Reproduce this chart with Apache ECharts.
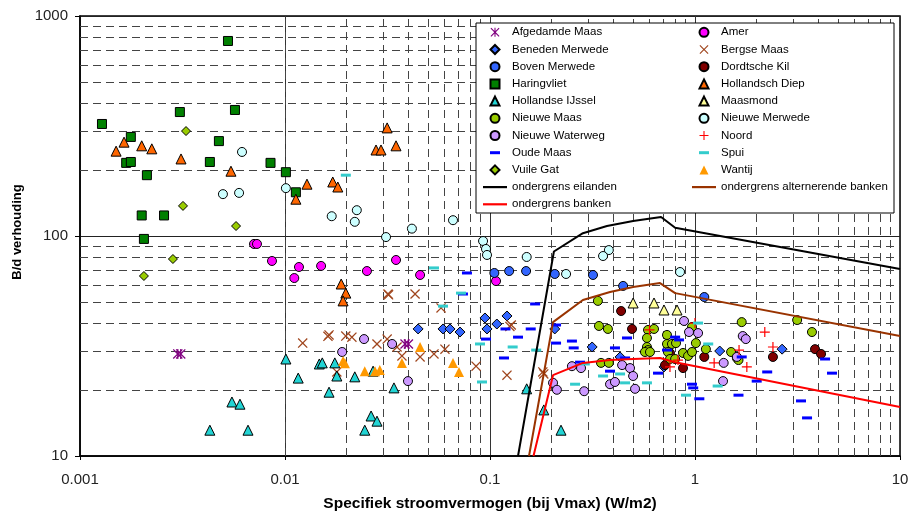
<!DOCTYPE html>
<html><head><meta charset="utf-8">
<script src="https://cdn.jsdelivr.net/npm/echarts@6/dist/echarts.min.js"></script>
<style>html,body{margin:0;padding:0;background:#fff}#c{width:908px;height:512px}</style>
</head><body><div id="c"></div>
<script>
// ---- data: [specifiek stroomvermogen (W/m2), B/d verhouding] ----
const afgedamdeMaas = [[0.00300,29.1],[0.00310,29.1],[0.0385,32.3],[0.0400,32.3]];
const amer = [[0.00706,92],[0.0073,92],[0.00864,77],[0.0117,72.3],[0.0111,64.4],[0.015,73.1],[0.0251,69.3],[0.0348,77.8],[0.0456,66.5],[0.107,62.4]];
const benedenMerwede = [[0.0446,37.8],[0.059,37.8],[0.0638,37.8],[0.0714,36.6],[0.0945,42.4],[0.0967,37.8],[0.108,39.8],[0.121,43.3],[0.207,37.8],[0.315,31.3],[0.431,28.2],[0.706,25.4],[1.32,30],[2.66,30.6]];
const bergseMaas = [[0.0122,32.6],[0.0164,35.5],[0.0162,35.0],[0.0198,35.1],[0.0212,34.7],[0.0281,32.3],[0.0315,34],[0.0352,31.3],[0.0372,28.5],[0.0456,28.2],[0.0533,29.1],[0.0603,30.6],[0.0855,25.6],[0.121,23.3],[0.127,39.4],[0.125,38.8],[0.0179,24.1],[0.0318,54.5],[0.0320,54.0],[0.0431,54.5],[0.0577,47.1],[0.181,24.1],[0.183,23.6]];
const bovenMerwede = [[0.105,67.9],[0.124,69.3],[0.15,69.3],[0.207,67.2],[0.318,66.5],[0.446,59.3],[1.11,52.8]];
const dordtscheKil = [[0.436,45.6],[0.493,37.8],[0.755,29.4],[0.714,25.9],[0.874,25.1],[1.11,28.2],[2.4,28.2],[3.85,30.6],[4.12,29.1]];
const haringvliet = [[0.00128,323],[0.00307,366],[0.00527,770],[0.0057,374],[0.00177,282],[0.00476,270],[0.00168,215],[0.00177,217],[0.0043,217],[0.0085,215],[0.0101,195],[0.00212,189],[0.002,124],[0.00257,124],[0.00205,97],[0.0113,158]];
const hollandschDiep = [[0.0015,243],[0.00164,267],[0.002,257],[0.00224,249],[0.00311,224],[0.00545,197],[0.0113,147],[0.0315,310],[0.0278,246],[0.0294,246],[0.0348,257],[0.0128,172],[0.0171,176],[0.0181,167],[0.0188,60.5],[0.0198,55],[0.0192,50.7]];
const hollandseIJssel = [[0.0101,27.6],[0.0116,22.6],[0.00551,17.6],[0.00603,17.2],[0.0043,13.1],[0.0066,13.1],[0.0147,26.2],[0.0152,26.5],[0.0164,19.5],[0.0175,26.5],[0.0179,23.1],[0.0219,22.9],[0.0269,24.3],[0.0245,13.1],[0.0263,15.2],[0.0281,14.4],[0.034,20.4],[0.151,20.2],[0.183,16.2],[0.222,13.1]];
const maasmond = [[0.499,49.6],[0.631,49.6],[0.706,46.1],[0.817,46.1]];
const nieuweMaas = [[0.336,50.7],[0.34,39],[0.376,37.8],[0.348,26.5],[0.38,26.5],[0.59,37.4],[0.631,37.8],[0.583,34.4],[0.583,31.3],[0.59,30.3],[0.57,29.7],[0.603,29.7],[0.73,35.5],[0.73,32.3],[0.772,32.3],[0.808,32.6],[0.738,29.7],[0.755,27.6],[0.8,27.6],[0.874,29.4],[0.925,28.5],[0.967,29.7],[0.967,38.6],[1.01,32.6],[1.13,30.6],[1.5,29.7],[1.6,27.9],[1.63,27.3],[1.69,40.6],[3.15,41.5],[3.72,36.6]];
const nieuweMerwede = [[0.00617,241],[0.00498,155],[0.00597,157],[0.0101,165],[0.0169,123],[0.0224,131],[0.0219,116],[0.0311,98.9],[0.0416,108],[0.066,118],[0.0925,94.9],[0.0956,87.3],[0.0967,82],[0.151,80.3],[0.38,86.3],[0.356,81.1],[0.235,67.2],[0.845,68.6]];
const nieuweWaterweg = [[0.0243,34],[0.0333,32.3],[0.019,29.7],[0.0398,21.9],[0.203,21.5],[0.212,20],[0.251,25.6],[0.278,25.1],[0.288,19.7],[0.385,21.2],[0.407,21.7],[0.441,25.9],[0.482,25.1],[0.499,23.1],[0.51,20.2],[0.884,41.1],[0.935,36.6],[1.035,36.2],[1.37,21.9],[1.38,26.5],[1.71,35.1],[1.77,34],[1.6,28.2]];
const noord = [[0.6,37.4],[1.0,40.2],[0.755,25.4],[0.826,27.3],[1.24,26.5],[1.64,30.3],[1.79,25.4],[2.19,36.6],[2.4,31.3]];
const oudeMaas = [[0.0772,67.9],[0.0738,54.5],[0.0956,34],[0.117,27.9],[0.119,37.8],[0.137,34.7],[0.158,37.8],[0.166,49.1],[0.21,39.4],[0.21,32.6],[0.251,33.3],[0.256,31],[0.275,26.7],[0.385,24.3],[0.407,31],[0.466,34.4],[0.456,27.9],[0.66,23.8],[0.73,30.3],[0.8,34.7],[0.836,33.7],[0.967,21.2],[0.98,20.4],[1.05,18.2],[1.69,28.2],[1.63,18.9],[2.0,21.9],[2.25,24.1],[3.29,17.8],[3.52,14.9],[4.31,27.6],[4.66,23.8]];
const spui = [[0.0198,189],[0.0533,71.6],[0.0722,55],[0.059,48],[0.0894,32.3],[0.0914,21.7],[0.129,31.3],[0.168,30.3],[0.26,21.2],[0.29,26.2],[0.356,23.1],[0.431,23.6],[0.456,21.5],[0.583,21.5],[0.904,18.9],[1.035,40.2],[1.16,32.3],[1.29,20.8]];
const vuileGat = [[0.00329,300],[0.00318,137],[0.00577,111],[0.00284,78.6],[0.00205,65.8]];
const wantij = [[0.0192,27],[0.0196,26.4],[0.0245,24.3],[0.0275,24.3],[0.029,24.6],[0.0372,26.5],[0.0456,31.3],[0.066,26.5],[0.0706,24.1]];
// boundary lines
const eilandenX = [0.137,0.205,0.284,0.372,0.499,0.683,0.8,10];
const eilandenY = [10,85,103,111,117,122,109,70.8];
const alternerendeX = [0.155,0.203,0.284,0.385,0.499,0.675,0.8,10];
const alternerendeY = [10,40.6,51.2,55.6,58.7,61.1,55,35.1];
const bankenX = [0.163,0.203,0.284,0.385,0.499,0.675,0.8,10];
const bankenY = [10,23.3,26.5,27.3,27.6,27.9,26.7,16.7];
// axes
const xTickLabels = ['0.001','0.01','0.1','1','10'];
const yTickLabels = ['10','100','1000'];
const xAxisTitle = 'Specifiek stroomvermogen (bij Vmax) (W/m2)';
const yAxisTitle = 'B/d verhouding';

// ---- minor grid values (2..9 within each decade) ----
const xMinor = [], yMinor = [];
[0.001,0.01,0.1,1].forEach(d => { for (let k=2;k<=9;k++) xMinor.push(+(d*k).toPrecision(3)); });
[10,100].forEach(d => { for (let k=2;k<=9;k++) yMinor.push(+(d*k).toPrecision(3)); });

// ---- symbols ----
const TRI = 'path://M5,0L10,10L0,10Z';
const DIA = 'path://M5,0L10,5L5,10L0,5Z';
const SQR = 'path://M0,0H10V10H0Z';
const XP = 'path://M0,0.9L0.9,0L5,4.1L9.1,0L10,0.9L5.9,5L10,9.1L9.1,10L5,5.9L0.9,10L0,9.1L4.1,5Z';
const PLUS = 'path://M4.4,0H5.6V4.4H10V5.6H5.6V10H4.4V5.6H0V4.4H4.4Z';
const AST = XP + 'M4.4,0H5.6V10H4.4Z';
const DASH = 'path://M0,0H10V3H0Z';
const DASH_LEG = 'path://M0,0L0,0M24,9L24,9M7,3H17V6H7Z';
const LINE_LEG = 'path://M0,0L0,0M24,9L24,9M0,3.4H24V5.6H0Z';

function sc(name, data, symbol, size, color, border) {
  return {
    type: 'scatter', name, data, symbol, symbolSize: size,
    itemStyle: { color, borderColor: '#000', borderWidth: border ? 1 : 0, opacity: 1 },
    emphasis: { disabled: true }, animation: false
  };
}
function ln(name, xs, ys, color) {
  return {
    type: 'line', name, data: xs.map((x,i)=>[x, ys[i]]), symbol: 'none', showSymbol: false,
    lineStyle: { color, width: 2 }, itemStyle: { color }, clip: true, animation: false, z: 3
  };
}

const gridLineSeries = {
  type: 'scatter', name: '_grid', data: [], silent: true, animation: false,
  markLine: {
    silent: true, z: 1, symbol: ['none','none'], animation: false, label: { show: false },
    lineStyle: { color: '#444', width: 1, type: [8,5] },
    emphasis: { disabled: true },
    data: xMinor.map(v => ({ xAxis: v })).concat(yMinor.map(v => ({ yAxis: v })))
  }
};

const series = [
  gridLineSeries,
  sc('Afgedamde Maas', afgedamdeMaas, AST, 10, '#800080', false),
  sc('Amer', amer, 'circle', 9, '#FF00FF', true),
  sc('Beneden Merwede', benedenMerwede, DIA, 10, '#3366FF', true),
  sc('Bergse Maas', bergseMaas, XP, 10, '#A0461E', false),
  sc('Boven Merwede', bovenMerwede, 'circle', 9, '#3366FF', true),
  sc('Dordtsche Kil', dordtscheKil, 'circle', 9, '#800000', true),
  sc('Haringvliet', haringvliet, SQR, 9, '#008000', true),
  sc('Hollandsch Diep', hollandschDiep, TRI, 10, '#FF6600', true),
  sc('Hollandse IJssel', hollandseIJssel, TRI, 10, '#22D4D4', true),
  sc('Maasmond', maasmond, TRI, 10, '#FFFF99', true),
  sc('Nieuwe Maas', nieuweMaas, 'circle', 9, '#99CC00', true),
  sc('Nieuwe Merwede', nieuweMerwede, 'circle', 9, '#CCFFFF', true),
  sc('Nieuwe Waterweg', nieuweWaterweg, 'circle', 9, '#CC99FF', true),
  sc('Noord', noord, PLUS, 10, '#FF0000', false),
  sc('Oude Maas', oudeMaas, DASH, [10,3], '#0000FF', false),
  sc('Spui', spui, DASH, [10,3], '#33CCCC', false),
  sc('Vuile Gat', vuileGat, DIA, 9, '#99CC00', true),
  sc('Wantij', wantij, TRI, 10, '#FF9900', false),
  ln('ondergrens eilanden', eilandenX, eilandenY, '#000000'),
  ln('ondergrens alternerende banken', alternerendeX, alternerendeY, '#993300'),
  ln('ondergrens banken', bankenX, bankenY, '#FF0000')
];

const legendText = { fontFamily: 'Liberation Sans, Arial, sans-serif', fontSize: 11.5, color: '#000', lineHeight: 12 };
function legendItems(names) {
  return names.map(n => {
    if (n === 'Oude Maas' || n === 'Spui') return { name: n, icon: DASH_LEG };
    if (n.indexOf('ondergrens') === 0) return { name: n, icon: LINE_LEG };
    return { name: n };
  });
}
const legendBase = {
  orient: 'vertical', itemWidth: 24, itemHeight: 9, itemGap: 5.2, padding: 0, top: 26.3,
  textStyle: legendText, selectedMode: false, z: 6
};

const fmt = v => { const n = +(+v).toPrecision(6); return String(n); };

const option = {
  backgroundColor: '#fff',
  animation: false,
  grid: { left: 80, right: 8, top: 16, bottom: 56, outerBoundsMode: 'none', containLabel: false,
    show: true, borderColor: '#000', borderWidth: 1.5, backgroundColor: 'transparent' },
  xAxis: {
    type: 'log', logBase: 10, min: 0.001, max: 10,
    name: xAxisTitle, nameLocation: 'middle', nameGap: 40,
    nameTextStyle: { fontFamily: 'Liberation Sans, Arial, sans-serif', fontSize: 15.5, fontWeight: 'bold', color: '#000' },
    axisLine: { show: true, lineStyle: { color: '#000', width: 1.5 } },
    axisTick: { show: true, length: 4, lineStyle: { color: '#000' } },
    axisLabel: { margin: 16, fontFamily: 'Liberation Sans, Arial, sans-serif', fontSize: 15, color: '#222',
      formatter: v => { const s = fmt(v); return xTickLabels.includes(s) ? s : ''; } },
    splitLine: { show: true, lineStyle: { color: '#333', width: 1 } },
    minorTick: { show: false }, minorSplitLine: { show: false }
  },
  yAxis: {
    type: 'log', logBase: 10, min: 10, max: 1000,
    name: yAxisTitle, nameLocation: 'middle', nameGap: 53,
    nameTextStyle: { fontFamily: 'Liberation Sans, Arial, sans-serif', fontSize: 13, fontWeight: 'bold', color: '#000', padding: [0, 0, 0, 8] },
    axisLine: { show: true, lineStyle: { color: '#000', width: 1.5 } },
    axisTick: { show: true, length: 5, lineStyle: { color: '#000' } },
    axisLabel: { margin: 12, fontFamily: 'Liberation Sans, Arial, sans-serif', fontSize: 15, color: '#222',
      formatter: v => { const s = fmt(v); return yTickLabels.includes(s) ? s : ''; } },
    splitLine: { show: true, lineStyle: { color: '#222', width: 1 } },
    minorTick: { show: false }, minorSplitLine: { show: false }
  },
  legend: [
    Object.assign({}, legendBase, { left: 483,
      data: legendItems(['Afgedamde Maas','Beneden Merwede','Boven Merwede','Haringvliet','Hollandse IJssel','Nieuwe Maas','Nieuwe Waterweg','Oude Maas','Vuile Gat','ondergrens eilanden','ondergrens banken']) }),
    Object.assign({}, legendBase, { left: 692,
      data: legendItems(['Amer','Bergse Maas','Dordtsche Kil','Hollandsch Diep','Maasmond','Nieuwe Merwede','Noord','Spui','Wantij','ondergrens alternerende banken']) })
  ],
  graphic: [{
    type: 'rect', z: 5, silent: true,
    shape: { x: 476, y: 23, width: 418, height: 190 },
    style: { fill: '#fff', stroke: '#000', lineWidth: 1 }
  }],
  series
};

const chart = echarts.init(document.getElementById('c'), null, { renderer: 'canvas' });
chart.setOption(option);
</script></body></html>
